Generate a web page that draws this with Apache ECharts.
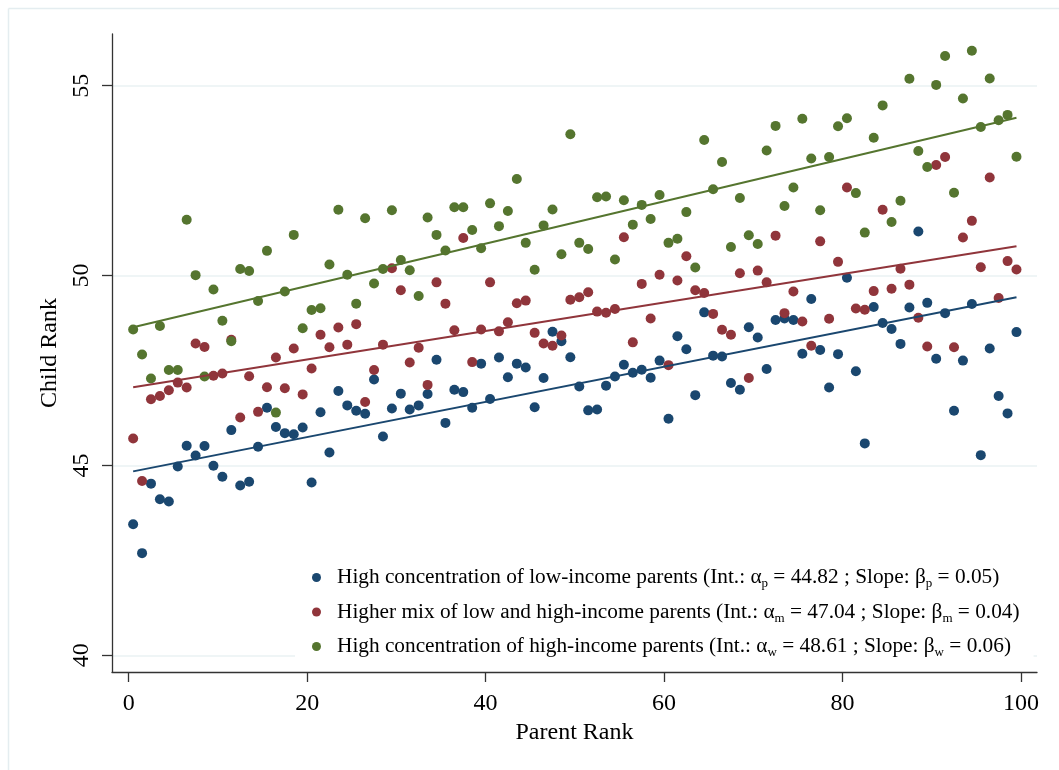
<!DOCTYPE html>
<html>
<head>
<meta charset="utf-8">
<title>Child Rank vs Parent Rank</title>
<script src="https://cdn.jsdelivr.net/npm/echarts@6/dist/echarts.min.js"></script>
<style>
  html, body { margin: 0; padding: 0; background: #fff; }
  #main { width: 1059px; height: 770px; }
</style>
</head>
<body>
<div id="main"></div>
<script>
// parent rank bins
var parentRank = [
  0.5, 1.5, 2.5, 3.5, 4.5, 5.5, 6.5, 7.5, 8.5, 9.5,
  10.5, 11.5, 12.5, 13.5, 14.5, 15.5, 16.5, 17.5, 18.5, 19.5,
  20.5, 21.5, 22.5, 23.5, 24.5, 25.5, 26.5, 27.5, 28.5, 29.5,
  30.5, 31.5, 32.5, 33.5, 34.5, 35.5, 36.5, 37.5, 38.5, 39.5,
  40.5, 41.5, 42.5, 43.5, 44.5, 45.5, 46.5, 47.5, 48.5, 49.5,
  50.5, 51.5, 52.5, 53.5, 54.5, 55.5, 56.5, 57.5, 58.5, 59.5,
  60.5, 61.5, 62.5, 63.5, 64.5, 65.5, 66.5, 67.5, 68.5, 69.5,
  70.5, 71.5, 72.5, 73.5, 74.5, 75.5, 76.5, 77.5, 78.5, 79.5,
  80.5, 81.5, 82.5, 83.5, 84.5, 85.5, 86.5, 87.5, 88.5, 89.5,
  90.5, 91.5, 92.5, 93.5, 94.5, 95.5, 96.5, 97.5, 98.5, 99.5
];

// mean child rank, high concentration of low-income parents
var lowIncome = [
  43.45, 42.69, 44.52, 44.11, 44.05, 44.97, 45.52, 45.26, 45.51, 44.99,
  44.70, 45.93, 44.47, 44.57, 45.49, 46.52, 46.01, 45.85, 45.82, 46.00,
  44.55, 46.40, 45.34, 46.96, 46.58, 46.44, 46.36, 47.26, 45.76, 46.50,
  46.89, 46.47, 46.58, 46.88, 47.78, 46.12, 46.99, 46.93, 46.52, 47.68,
  46.75, 47.84, 47.32, 47.68, 47.58, 46.53, 47.30, 48.52, 48.27, 47.85,
  47.08, 46.45, 46.47, 47.10, 47.34, 47.65, 47.44, 47.52, 47.31, 47.76,
  46.23, 48.40, 48.06, 46.85, 49.03, 47.89, 47.87, 47.17, 46.99, 48.64,
  48.37, 47.54, 48.83, 48.87, 48.83, 47.94, 49.38, 48.04, 47.05, 47.93,
  49.94, 47.48, 45.58, 49.17, 48.75, 48.59, 48.20, 49.16, 51.16, 49.28,
  47.81, 49.01, 46.44, 47.76, 49.25, 45.27, 48.08, 46.83, 46.37, 48.51
];

// higher mix of low and high-income parents
var mixIncome = [
  45.71, 44.59, 46.74, 46.83, 46.98, 47.18, 47.05, 48.21, 48.12, 47.36,
  47.42, 48.31, 46.26, 47.35, 46.41, 47.06, 47.84, 47.03, 48.08, 46.87,
  47.55, 48.44, 48.11, 48.63, 48.18, 48.72, 46.67, 47.51, 48.18, 50.19,
  49.61, 47.71, 48.10, 47.12, 49.82, 49.26, 48.56, 50.99, 47.72, 48.58,
  49.82, 48.53, 48.77, 49.27, 49.34, 48.49, 48.21, 48.15, 48.42, 49.36,
  49.43, 49.56, 49.05, 49.02, 49.12, 51.01, 48.24, 49.78, 48.87, 50.02,
  47.64, 49.87, 50.51, 49.61, 49.54, 48.99, 48.57, 48.44, 50.06, 47.30,
  50.13, 49.82, 51.05, 49.01, 49.58, 48.79, 48.15, 50.90, 48.86, 50.36,
  52.32, 49.13, 49.10, 49.59, 51.73, 49.65, 50.18, 49.76, 48.89, 48.13,
  52.91, 53.12, 48.11, 51.00, 51.44, 50.22, 52.58, 49.41, 50.38, 50.16
];

// high concentration of high-income parents
var highIncome = [
  48.58, 47.92, 47.29, 48.67, 47.51, 47.51, 51.47, 50.01, 47.34, 49.63,
  48.81, 48.27, 50.17, 50.12, 49.33, 50.65, 46.39, 49.58, 51.07, 48.61,
  49.09, 49.14, 50.29, 51.73, 50.02, 49.26, 51.51, 49.79, 50.17, 51.72,
  50.41, 50.14, 49.46, 51.53, 51.07, 50.66, 51.80, 51.80, 51.20, 50.72,
  51.90, 51.30, 51.70, 52.54, 50.86, 50.15, 51.32, 51.74, 50.56, 53.72,
  50.86, 50.70, 52.06, 52.08, 50.42, 51.98, 51.34, 51.86, 51.49, 52.12,
  50.86, 50.97, 51.67, 50.21, 53.57, 52.27, 52.99, 50.75, 52.04, 51.06,
  50.83, 53.29, 53.94, 51.83, 52.32, 54.13, 53.08, 51.72, 53.12, 53.93,
  54.14, 52.17, 51.13, 53.63, 54.48, 51.41, 51.97, 55.18, 53.28, 52.86,
  55.02, 55.78, 52.18, 54.66, 55.92, 53.91, 55.19, 54.09, 54.23, 53.13
];

var groupNames = [
  'High concentration of low-income parents',
  'Higher mix of low and high-income parents',
  'High concentration of high-income parents'
];
var groupSubs = ['p', 'm', 'w'];
// as printed in the legend
var interceptLabels = ['44.82', '47.04', '48.61'];
var slopeLabels = ['0.05', '0.04', '0.06'];
// fitted lines (intercept from legend, slope)
var fitIntercepts = [44.82, 47.04, 48.61];
var fitSlopes = [0.0463, 0.0375, 0.0557];
var xTicks = [0, 20, 40, 60, 80, 100];
var yTicks = [40, 45, 50, 55];
var colors = ['#1a476f', '#90353b', '#55752f'];

var serif = 'Liberation Serif, Times New Roman, serif';

function pairs(ys) {
  return ys.map(function (y, i) { return [parentRank[i], y]; });
}

// straight line over the range of the bins
function fitLine(k) {
  var x0 = parentRank[0], x1 = parentRank[parentRank.length - 1];
  return [
    [x0, fitIntercepts[k] + fitSlopes[k] * x0],
    [x1, fitIntercepts[k] + fitSlopes[k] * x1]
  ];
}

var chart = echarts.init(document.getElementById('main'));

var allSeries = [lowIncome, mixIncome, highIncome];
var series = [];
allSeries.forEach(function (ys, k) {
  series.push({
    name: groupNames[k],
    type: 'scatter',
    data: pairs(ys),
    symbol: 'circle',
    symbolSize: 10,
    itemStyle: { color: colors[k], opacity: 1 },
    z: 2 + k
  });
});
allSeries.forEach(function (ys, k) {
  series.push({
    name: 'fit' + k,
    type: 'line',
    data: fitLine(k),
    showSymbol: false,
    symbol: 'none',
    lineStyle: { color: colors[k], width: 2 },
    z: 6
  });
});

var option = {
  animation: false,
  backgroundColor: '#fff',
  grid: { left: 112, top: 34, right: 22, bottom: 98 },
  graphic: [
    { type: 'line', shape: { x1: 8.5, y1: 8.5, x2: 1059, y2: 8.5 }, style: { stroke: '#e4edf0', lineWidth: 1.5 } },
    { type: 'line', shape: { x1: 8.5, y1: 8.5, x2: 8.5, y2: 770 }, style: { stroke: '#e4edf0', lineWidth: 1.5 } }
  ],
  legend: {
    data: groupNames.map(function (n) { return { name: n, icon: 'circle' }; }),
    orient: 'vertical',
    left: 295,
    top: 555,
    padding: [12, 14, 6, 17],
    itemGap: 11,
    itemWidth: 9,
    itemHeight: 9,
    backgroundColor: '#fff',
    selectedMode: false,
    textStyle: {
      fontFamily: serif,
      fontSize: 21.3,
      color: '#000',
      rich: {
        g: { width: 11 },
        n: { fontFamily: serif, fontSize: 21.3, color: '#000', lineHeight: 26 },
        s: { fontFamily: serif, fontSize: 13, color: '#000', lineHeight: 13, verticalAlign: 'bottom' }
      }
    },
    formatter: function (name) {
      var k = groupNames.indexOf(name);
      return '{g| }{n|' + name + ' (Int.: \u03b1}{s|' + groupSubs[k] + '}{n| = ' + interceptLabels[k] +
        ' ; Slope: \u03b2}{s|' + groupSubs[k] + '}{n| = ' + slopeLabels[k] + ')}';
    }
  },
  xAxis: {
    type: 'value',
    min: -1.87,
    max: 101.8,
    name: 'Parent Rank',
    nameLocation: 'middle',
    nameGap: 46,
    nameTextStyle: { fontFamily: serif, fontSize: 24, color: '#000' },
    axisLine: { onZero: false, lineStyle: { color: '#333', width: 1.3 } },
    axisTick: { customValues: xTicks, length: 10, lineStyle: { color: '#333', width: 1.3 } },
    axisLabel: { customValues: xTicks, fontFamily: serif, fontSize: 24, color: '#000', margin: 20 },
    splitLine: { show: false }
  },
  yAxis: {
    type: 'value',
    min: 39.56,
    max: 56.36,
    name: 'Child Rank',
    nameLocation: 'middle',
    nameGap: 46,
    nameRotate: 90,
    nameTextStyle: { fontFamily: serif, fontSize: 24, color: '#000' },
    axisLine: { show: true, onZero: false, lineStyle: { color: '#333', width: 1.3 } },
    axisTick: { show: true, customValues: yTicks, length: 10, lineStyle: { color: '#333', width: 1.3 } },
    axisLabel: { customValues: yTicks, rotate: 90, fontFamily: serif, fontSize: 24, color: '#000', margin: 18 },
    splitLine: { show: true, lineStyle: { color: '#eaf2f3', width: 1.5 } }
  },
  series: series
};

chart.setOption(option);
window.addEventListener('resize', function () {
  chart.resize();
});
</script>
</body>
</html>
